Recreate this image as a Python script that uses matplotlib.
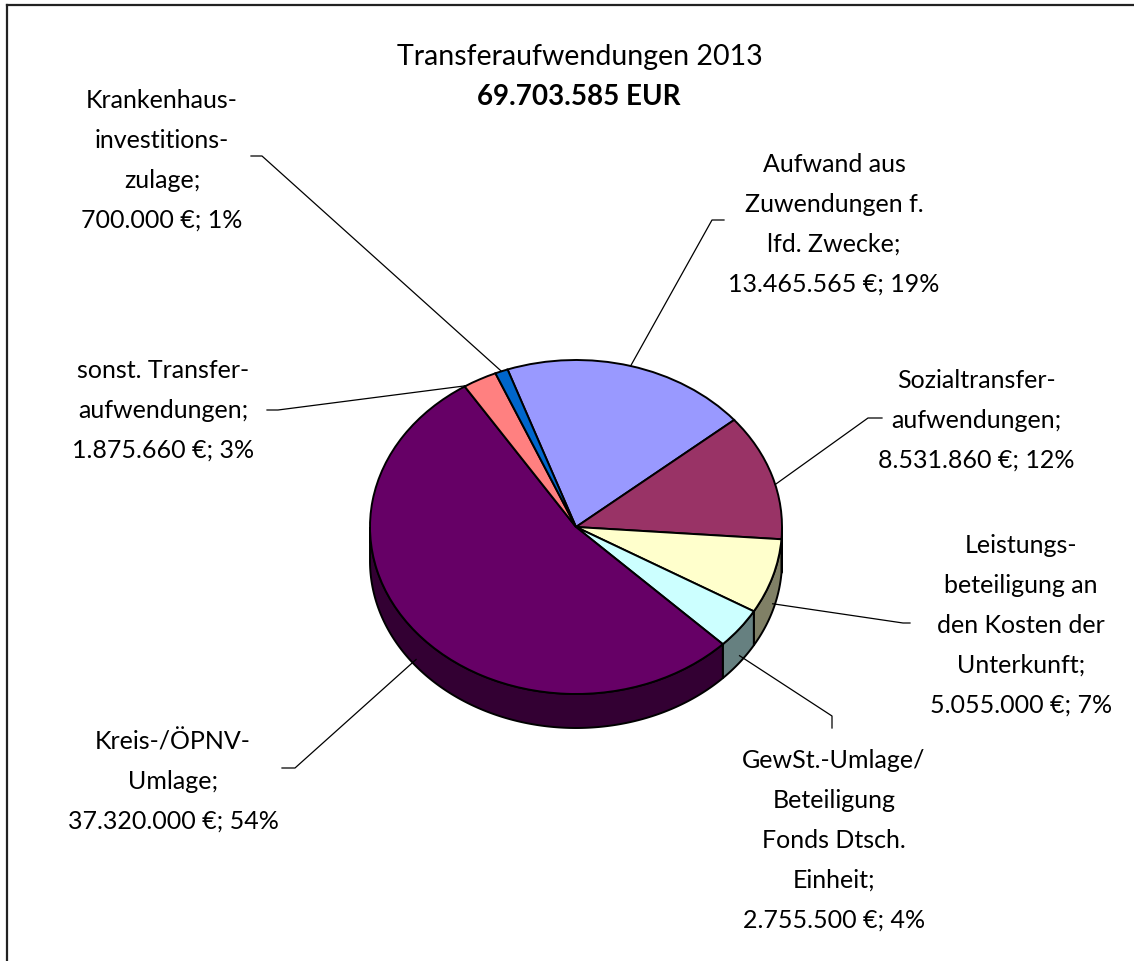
import numpy as np
import matplotlib
matplotlib.use("Agg")
import matplotlib.pyplot as plt
from matplotlib.lines import Line2D
from matplotlib.colors import to_rgb

# ---------------- data ----------------
categories = [
    "Aufwand aus\nZuwendungen f.\nlfd. Zwecke",
    "Sozialtransfer-\naufwendungen",
    "Leistungs-\nbeteiligung an\nden Kosten der\nUnterkunft",
    "GewSt.-Umlage/\nBeteiligung\nFonds Dtsch.\nEinheit",
    "Kreis-/ÖPNV-\nUmlage",
    "sonst. Transfer-\naufwendungen",
    "Krankenhaus-\ninvestitions-\nzulage",
]
values = [13465565, 8531860, 5055000, 2755500, 37320000, 1875660, 700000]
colors = ["#9999FF", "#993366", "#FFFFCC", "#CCFFFF", "#660066", "#FF8080", "#0066CC"]
title = "Transferaufwendungen 2013"
subtitle = "69.703.585 EUR"

# label layout (pixel positions: centre x, baseline of first line)
label_pos = [(834, 172), (976, 388), (1021, 553), (834, 768), (173, 749), (163, 378), (162, 108)]
# leader line start points in pixels (near labels); end points come from the wedges
leader_start = [
    [(724, 221), (712, 221)],
    [(882, 419), (868, 419)],
    [(910, 624), (903, 624)],
    [(832, 729), (832, 717)],
    [(282, 769), (295, 769)],
    [(267, 411), (278, 411)],
    [(251, 157), (262, 157)],
]
# where along each wedge (0 = clockwise end, 1 = counter-clockwise end) the leader touches
leader_frac = [0.5, 0.43, 0.5, 0.5, 0.5, 0.95, 0.5]

W, H = 1134, 962
cx, cy, rx, ry, depth = 576, 528, 206, 167, 34
LINE = 39.8

plt.rcParams['font.family'] = ['Lato', 'DejaVu Sans']

fig = plt.figure(figsize=(W / 100, H / 100), dpi=100)
ax = fig.add_axes([0, 0, 1, 1])


def px2d(px, py):
    return (px - cx) / rx, (cy - py) / ry


def fmt_eur(v):
    return f"{v:,}".replace(",", ".") + " €"


total = sum(values)
wedges, _ = ax.pie(values, colors=colors, startangle=109.4, counterclock=False,
                   radius=1, center=(0, 0),
                   wedgeprops=dict(edgecolor="black", linewidth=1.4, zorder=3))
ax.set_aspect("auto")
ax.set_xlim(px2d(0, 0)[0], px2d(W, 0)[0])
ax.set_ylim(px2d(0, H)[1], px2d(0, 0)[1])
ax.axis("off")

d = depth / ry
# 3D side walls for the front half
for w, col in zip(wedges, colors):
    t1, t2 = w.theta1, w.theta2
    dark = tuple(c * 0.5 for c in to_rgb(col))
    for k in range(-2, 2):
        lo = max(t1, 180 + 360 * k)
        hi = min(t2, 360 + 360 * k)
        if hi > lo:
            ts = np.radians(np.linspace(lo, hi, 200))
            xs = np.concatenate([np.cos(ts), np.cos(ts[::-1])])
            ys = np.concatenate([np.sin(ts), np.sin(ts[::-1]) - d])
            ax.fill(xs, ys, facecolor=dark, edgecolor="black", linewidth=1.4, zorder=2)

# labels and leader lines
for i, (w, cat, v) in enumerate(zip(wedges, categories, values)):
    pct = round(100 * v / total)
    lines = (cat + ";").split("\n") + [f"{fmt_eur(v)}; {pct}%"]
    x0, y0 = label_pos[i]
    for j, ln in enumerate(lines):
        xd, yd = px2d(x0, y0 + j * LINE)
        ax.text(xd, yd, ln, ha="center", va="baseline", fontsize=18, color="black", zorder=5)
    f = leader_frac[i]
    ang = np.radians(w.theta1 + f * (w.theta2 - w.theta1))
    ex, ey = np.cos(ang), np.sin(ang)
    if ey < 0:
        ey -= d * 0.8
    pts = [px2d(*p) for p in leader_start[i]] + [(ex, ey)]
    ax.plot([p[0] for p in pts], [p[1] for p in pts], color="black", lw=0.9, zorder=4)

# titles
tx, ty = px2d(580, 65)
ax.text(tx, ty, title, ha="center", va="baseline", fontsize=20.5, zorder=5)
tx, ty = px2d(579, 105)
ax.text(tx, ty, subtitle, ha="center", va="baseline", fontsize=20, fontweight="bold", zorder=5)

# frame
fig.add_artist(Line2D([7 / W, 1], [1 - 6 / H, 1 - 6 / H], color="#222222", lw=1.6, transform=fig.transFigure))
fig.add_artist(Line2D([7 / W, 7 / W], [1 - 6 / H, 0], color="#222222", lw=1.6, transform=fig.transFigure))

fig.savefig("out.png", dpi=100, facecolor="white")
